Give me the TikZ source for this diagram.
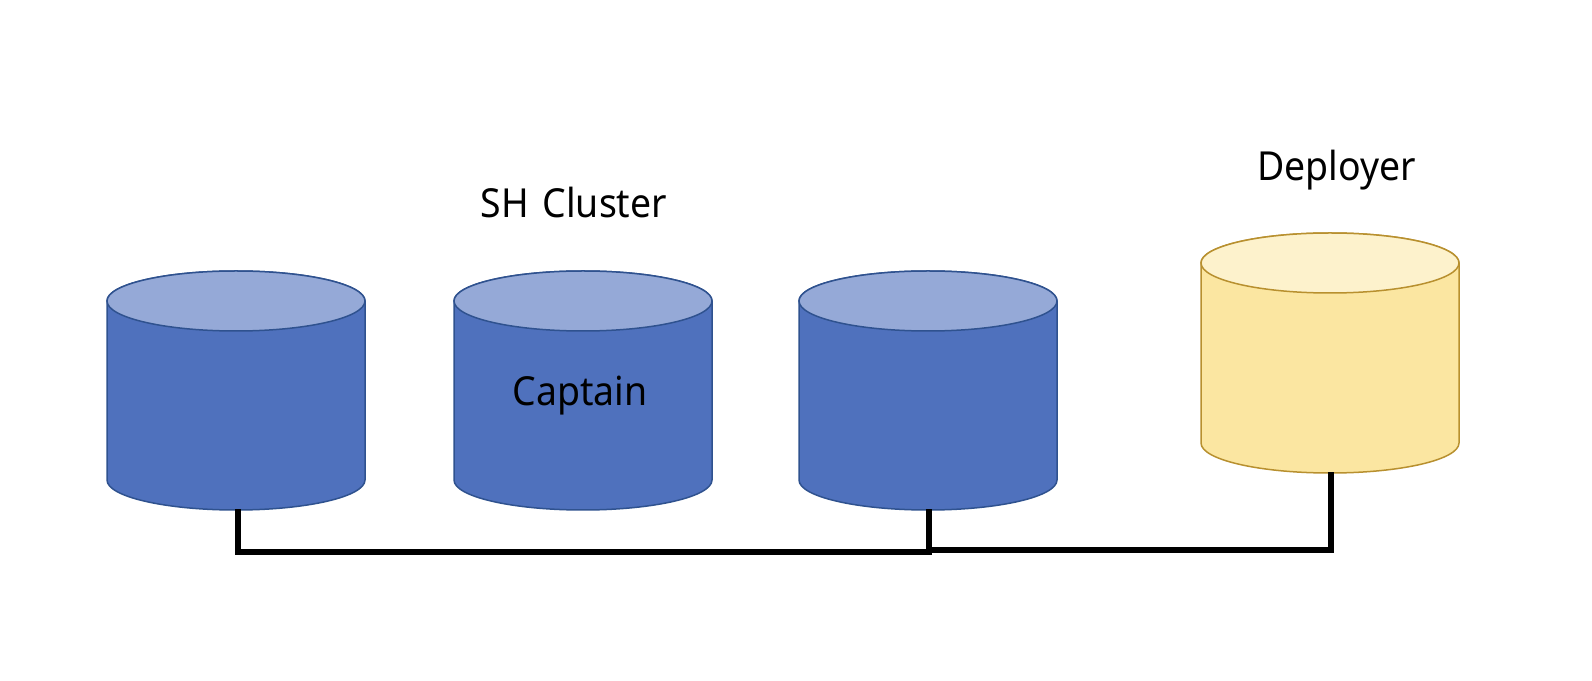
\documentclass[tikz,border=0pt]{standalone}
\usepackage{fontspec}
\setmainfont{Noto Sans}
\usetikzlibrary{calc}
\definecolor{bluebody}{HTML}{4F71BD}
\definecolor{bluetop}{HTML}{95A9D7}
\definecolor{blueline}{HTML}{2F528F}
\definecolor{yelbody}{HTML}{FBE6A1}
\definecolor{yeltop}{HTML}{FDF2CC}
\definecolor{yelline}{HTML}{B8902F}
\tikzset{
  bluedrum/.style={drumline/.style={draw=blueline,line width=1.5pt},drumbody/.style={fill=bluebody},drumtop/.style={fill=bluetop}},
  yeldrum/.style={drumline/.style={draw=yelline,line width=1.5pt},drumbody/.style={fill=yelbody},drumtop/.style={fill=yeltop}},
  drumbox/.style={rectangle,minimum width=258pt,minimum height=238pt,inner sep=0pt,outer sep=0pt},
  wire/.style={line width=6pt,draw=black,miter limit=10},
  lbl/.style={font=\fontsize{40pt}{44pt}\selectfont,text=black,inner sep=0pt,anchor=base,xscale=0.935}
}
% name, centre x, y of top end centre, y of bottom end centre (y upward), style
\newcommand{\drumshape}[5]{%
  \begin{scope}[#5]
  \path[drumline,drumbody] (#2-129,#3) -- (#2-129,#4)
     arc[start angle=180,end angle=360,x radius=129pt,y radius=30pt]
     -- (#2+129,#3)
     arc[start angle=0,end angle=180,x radius=129pt,y radius=30pt] -- cycle;
  \path[drumline,drumtop] (#2,#3) ellipse[x radius=129pt,y radius=30pt];
  \node[drumbox] (#1) at (#2,{(#3+30+#4-30)/2}) {};
  \end{scope}}
\begin{document}
\begin{tikzpicture}[x=1pt,y=1pt]
\useasboundingbox (0,0) rectangle (1592,680);
\fill[white] (0,0) rectangle (1592,680);
\drumshape{c1}{236}{379}{200}{bluedrum}
\drumshape{c2}{583}{379}{200}{bluedrum}
\drumshape{c3}{928}{379}{200}{bluedrum}
\drumshape{c4}{1330}{417}{237}{yeldrum}
\node[lbl] (sh) at (574,462.5) {SH\hspace{4pt} Cluster};
\node[lbl] (cap) at (580,274) {Captain};
\node[lbl] (dep) at (1336.6,499) {Deployer};
\coordinate (j1) at (237.7,127.7);
\coordinate (j2) at (928.7,127.7);
\coordinate (j3) at (928.7,129.7);
\coordinate (j4) at (1331,129.7);
\coordinate (j5) at (928.7,125);
\draw[wire] (j1 |- c1.south) -- (j1) -- (j2);
\draw[wire] (j2 |- c3.south) -- (j5);
\draw[wire] (j3) -- (j4) -- (j4 |- c4.south);
\end{tikzpicture}
\end{document}
